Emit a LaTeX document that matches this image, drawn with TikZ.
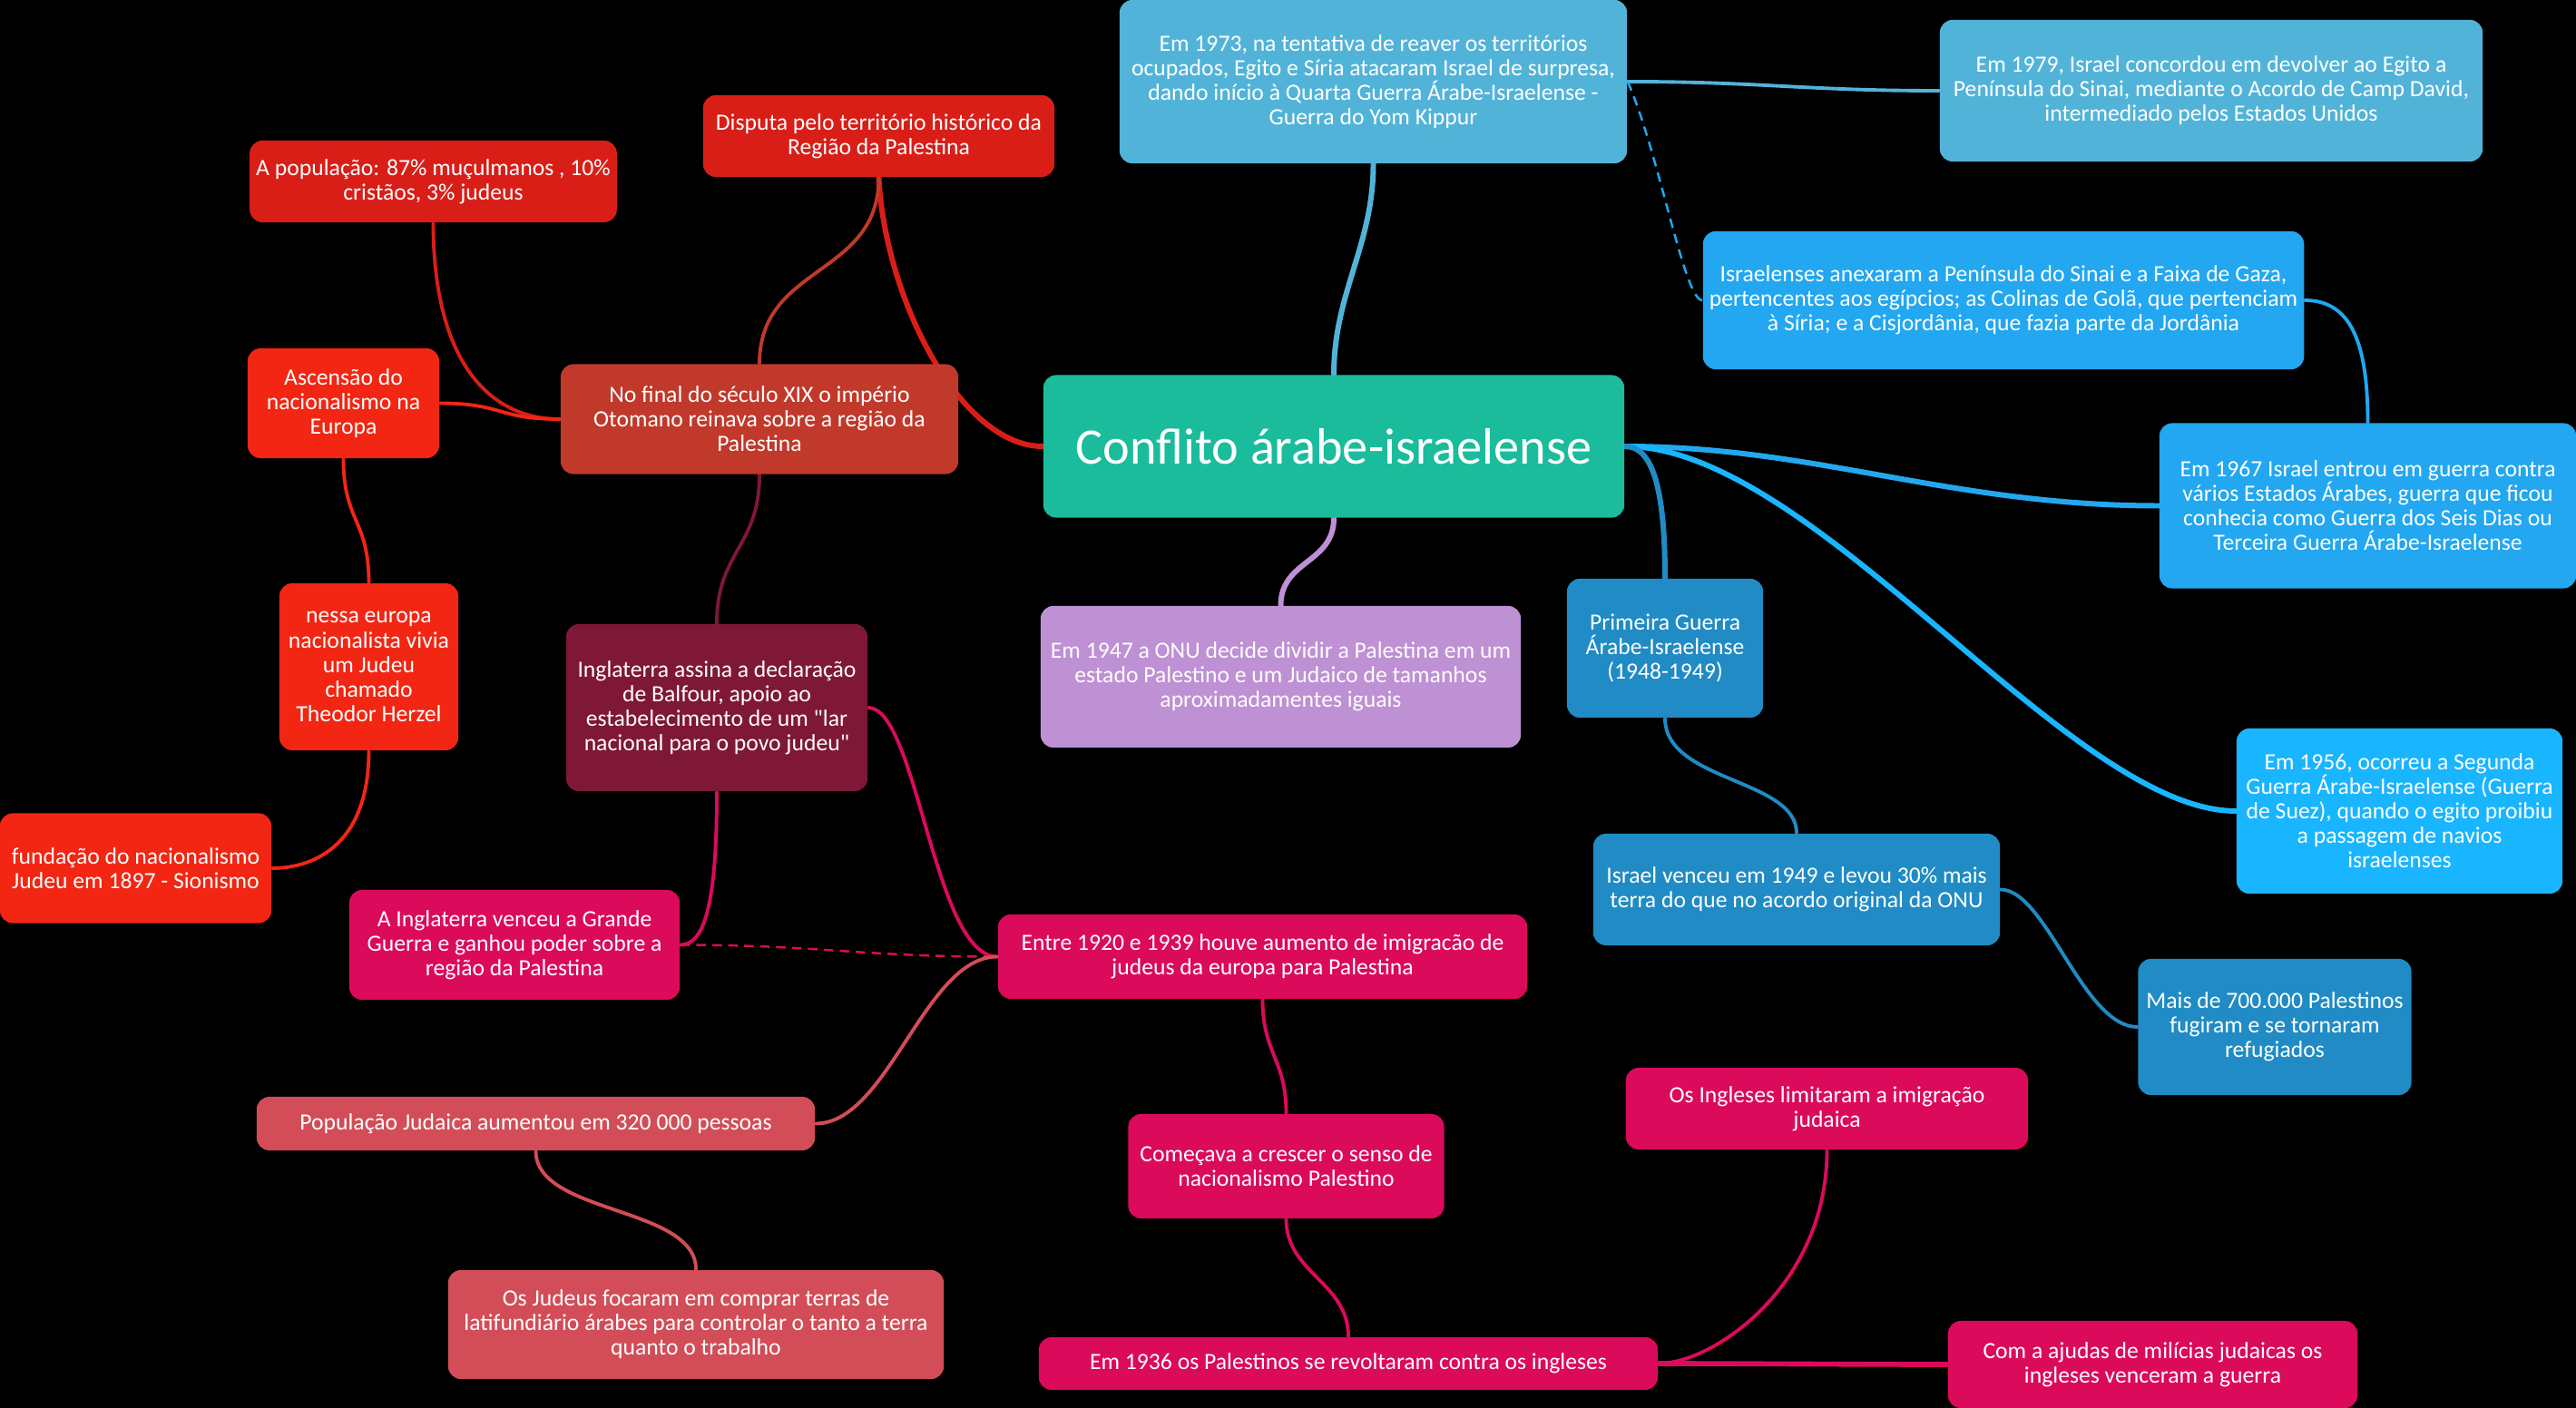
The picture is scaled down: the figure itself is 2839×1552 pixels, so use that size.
\documentclass[tikz,border=0pt]{standalone}
\usepackage{fontspec}
\setmainfont{Carlito}
\usepackage{xcolor}
\definecolor{tealc}{HTML}{1ABC9C}
\definecolor{bluea}{HTML}{52B3D9}
\definecolor{blueb}{HTML}{22A7F0}
\definecolor{bluec}{HTML}{19B5FE}
\definecolor{blued}{HTML}{208BC4}
\definecolor{lilac}{HTML}{BE90D4}
\definecolor{redk}{HTML}{C0392B}
\definecolor{redl}{HTML}{D91E18}
\definecolor{redn}{HTML}{F22613}
\definecolor{maroon}{HTML}{7F1836}
\definecolor{pinkc}{HTML}{DB0A5B}
\definecolor{salmon}{HTML}{D24D57}
\tikzset{
    box/.style={rounded corners=4pt, text=white, align=center, inner sep=2pt, font=\fontsize{7.3}{7.7}\selectfont},
    link/.style={line width=1.1pt, line cap=round},
    mainlink/.style={line width=1.7pt, line cap=round},
    dashlink/.style={line width=0.7pt, dash pattern=on 3pt off 2pt}
}
\pgfdeclarelayer{back}
\pgfdeclarelayer{links}
\pgfsetlayers{back,links,main}

\begin{document}
\begin{tikzpicture}[x=0.01cm, y=-0.01cm]
    \useasboundingbox (0,0) rectangle (2839,1552);
    \begin{pgfonlayer}{back}
        \fill[black] (0,0) rectangle (2839,1552);
    \end{pgfonlayer}

    \node[box, fill=tealc, minimum width=6.4cm, minimum height=1.57cm, font=\fontsize{16}{19}\selectfont] (ctr) at (1470,492) {Conflito árabe-israelense};

    \node[box, fill=bluea, minimum width=5.59cm, minimum height=1.8cm] (kippur) at (1513.5,90) {Em 1973, na tentativa de reaver os territórios\\ocupados, Egito e Síria atacaram Israel de surpresa,\\dando início à Quarta Guerra Árabe-Israelense -\\Guerra do Yom Kippur};
    \node[box, fill=bluea, minimum width=5.98cm, minimum height=1.56cm] (campdavid) at (2437,100) {Em 1979, Israel concordou em devolver ao Egito a\\Península do Sinai, mediante o Acordo de Camp David,\\intermediado pelos Estados Unidos};
    \node[box, fill=blueb, minimum width=6.6cm, minimum height=1.52cm] (anexo) at (2208,331) {Israelenses anexaram a Península do Sinai e a Faixa de Gaza,\\pertencentes aos egípcios; as Colinas de Golã, que pertenciam\\à Síria; e a Cisjordânia, que fazia parte da Jordânia};
    \node[box, fill=blueb, minimum width=4.59cm, minimum height=1.82cm] (seisdias) at (2609.5,557.5) {Em 1967 Israel entrou em guerra contra\\vários Estados Árabes, guerra que ficou\\conhecia como Guerra dos Seis Dias ou\\Terceira Guerra Árabe-Israelense};
    \node[box, fill=bluec, minimum width=3.59cm, minimum height=1.82cm] (suez) at (2644.5,894) {Em 1956, ocorreu a Segunda\\Guerra Árabe-Israelense (Guerra\\de Suez), quando o egito proibiu\\a passagem de navios\\israelenses};
    \node[box, fill=blued, minimum width=2.16cm, minimum height=1.53cm] (primeira) at (1835,714.5) {Primeira Guerra\\Árabe-Israelense\\(1948-1949)};
    \node[box, fill=blued, minimum width=4.48cm, minimum height=1.23cm] (venceu) at (1980,980.5) {Israel venceu em 1949 e levou 30\% mais\\terra do que no acordo original da ONU};
    \node[box, fill=blued, minimum width=3.01cm, minimum height=1.5cm] (refugiados) at (2507,1132) {Mais de 700.000 Palestinos\\fugiram e se tornaram\\refugiados};
    \node[box, fill=lilac, minimum width=5.29cm, minimum height=1.56cm] (onu) at (1411.5,746) {Em 1947 a ONU decide dividir a Palestina em um\\estado Palestino e um Judaico de tamanhos\\aproximadamentes iguais};

    \node[box, fill=redk, minimum width=4.38cm, minimum height=1.21cm] (otomano) at (837,462) {No final do século XIX o império\\Otomano reinava sobre a região da\\Palestina};
    \node[box, fill=redl, minimum width=3.87cm, minimum height=0.9cm] (disputa) at (968.5,150) {Disputa pelo território histórico da\\Região da Palestina};
    \node[box, fill=redl, minimum width=3.91cm, minimum height=0.9cm] (populacao) at (477.5,200) {A população: 87\% muçulmanos , 10\%\\cristãos, 3\% judeus};
    \node[box, fill=redn, minimum width=2.11cm, minimum height=1.21cm] (ascensao) at (378.5,444.5) {Ascensão do\\nacionalismo na\\Europa};
    \node[box, fill=redn, minimum width=1.97cm, minimum height=1.84cm] (herzel) at (406.5,735) {nessa europa\\nacionalista vivia\\um Judeu\\chamado\\Theodor Herzel};
    \node[box, fill=redn, minimum width=2.99cm, minimum height=1.21cm] (sionismo) at (149.5,957) {fundação do nacionalismo\\Judeu em 1897 - Sionismo};
    \node[box, fill=maroon, minimum width=3.32cm, minimum height=1.84cm] (balfour) at (790,780) {Inglaterra assina a declaração\\de Balfour, apoio ao\\estabelecimento de um \textquotedbl lar\\nacional para o povo judeu\textquotedbl};
    \node[box, fill=pinkc, minimum width=3.64cm, minimum height=1.21cm] (guerra) at (567,1041.5) {A Inglaterra venceu a Grande\\Guerra e ganhou poder sobre a\\região da Palestina};
    \node[box, fill=pinkc, minimum width=5.83cm, minimum height=0.93cm] (imigracao) at (1391.5,1054.5) {Entre 1920 e 1939 houve aumento de imigracão de\\judeus da europa para Palestina};
    \node[box, fill=salmon, minimum width=6.15cm, minimum height=0.59cm] (aumento) at (590.5,1238.5) {População Judaica aumentou em 320 000 pessoas};
    \node[box, fill=salmon, minimum width=5.46cm, minimum height=1.2cm] (terras) at (767,1460) {Os Judeus focaram em comprar terras de\\latifundiário árabes para controlar o tanto a terra\\quanto o trabalho};
    \node[box, fill=pinkc, minimum width=3.48cm, minimum height=1.15cm] (senso) at (1417.5,1285.5) {Começava a crescer o senso de\\nacionalismo Palestino};
    \node[box, fill=pinkc, minimum width=6.82cm, minimum height=0.58cm] (revolta) at (1486,1503) {Em 1936 os Palestinos se revoltaram contra os ingleses};
    \node[box, fill=pinkc, minimum width=4.43cm, minimum height=0.9cm] (limite) at (2013.5,1222) {Os Ingleses limitaram a imigração\\judaica};
    \node[box, fill=pinkc, minimum width=4.51cm, minimum height=0.96cm] (milicias) at (2372.5,1504) {Com a ajudas de milícias judaicas os\\ingleses venceram a guerra};

    \begin{pgfonlayer}{links}
        \draw[mainlink, redl] (ctr.west) .. controls +(-90,0) and +(7,135) .. (disputa.south);
        \draw[link, redk] (disputa.south) .. controls +(0,110) and +(0,-110) .. (otomano.north);
        \draw[link, redl] (otomano.west) .. controls +(-80,0) and +(0,150) .. (populacao.south);
        \draw[link, redn] (otomano.west) .. controls +(-70,0) and +(70,0) .. (ascensao.east);
        \draw[link, redn] (ascensao.south) .. controls +(0,70) and +(0,-70) .. (herzel.north);
        \draw[link, redn] (herzel.south) .. controls +(0,100) and +(50,0) .. (sionismo.east);
        \draw[link, maroon] (otomano.south) .. controls +(0,80) and +(0,-80) .. (balfour.north);
        \draw[link, pinkc] (balfour.south) .. controls +(0,130) and +(25,0) .. (guerra.east);
        \draw[link, pinkc] (balfour.east) .. controls +(54,0) and +(-70,0) .. (imigracao.west);
        \draw[dashlink, pinkc] (guerra.east) .. controls +(150,0) and +(-150,0) .. (imigracao.west);
        \draw[link, salmon] (imigracao.west) .. controls +(-80,0) and +(80,0) .. (aumento.east);
        \draw[link, salmon] (aumento.south) .. controls +(0,70) and +(0,-70) .. (terras.north);
        \draw[link, pinkc] (imigracao.south) .. controls +(0,60) and +(0,-60) .. (senso.north);
        \draw[link, pinkc] (senso.south) .. controls +(0,60) and +(0,-60) .. (revolta.north);
        \draw[link, pinkc] (revolta.east) .. controls +(60,0) and +(0,150) .. (limite.south);
        \draw[link, pinkc, line width=1.6pt] (revolta.east) .. controls +(100,0) and +(-100,0) .. (milicias.west);
        \draw[mainlink, bluea] (ctr.north) .. controls +(0,-90) and +(0,90) .. (kippur.south);
        \draw[link, bluea] (kippur.east) .. controls +(150,0) and +(-150,0) .. (campdavid.west);
        \draw[dashlink, blueb] (kippur.east) .. controls +(35,80) and +(-20,0) .. (anexo.west);
        \draw[mainlink, blueb] (ctr.east) .. controls +(210,0) and +(-230,0) .. (seisdias.west);
        \draw[link, blueb] (anexo.east) .. controls +(50,0) and +(0,-90) .. (seisdias.north);
        \draw[mainlink, bluec] (ctr.east) .. controls +(210,0) and +(-184,0) .. (suez.west);
        \draw[mainlink, blued] (ctr.east) .. controls +(30,0) and +(0,-100) .. (primeira.north);
        \draw[link, blued] (primeira.south) .. controls +(0,70) and +(0,-60) .. (venceu.north);
        \draw[link, blued] (venceu.east) .. controls +(50,0) and +(-60,0) .. (refugiados.west);
        \draw[mainlink, lilac] (ctr.south) .. controls +(0,50) and +(0,-50) .. (onu.north);
    \end{pgfonlayer}
\end{tikzpicture}
\end{document}
